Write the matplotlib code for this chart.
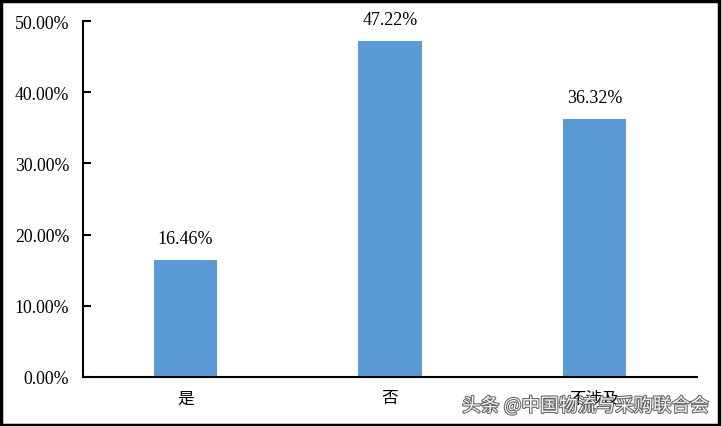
import matplotlib
matplotlib.use("Agg")
import matplotlib.pyplot as plt
import matplotlib.patheffects as pe
from matplotlib.patches import Rectangle
from matplotlib.ticker import FuncFormatter

categories = ["是", "否", "不涉及"]
values = [16.46, 47.22, 36.32]
labels = ["16.46%", "47.22%", "36.32%"]

fig = plt.figure(figsize=(7.22, 4.27), dpi=100)
ax = fig.add_axes([0.115, 0.115, 0.85, 0.833])
x = list(range(len(categories)))
ax.bar(x, values, width=0.31, color="#5B9BD5")
ax.set_xlim(-0.5, 2.5)
ax.set_ylim(0, 50)
ax.set_yticks([0, 10, 20, 30, 40, 50])
ax.yaxis.set_major_formatter(FuncFormatter(lambda v, p: f"{v:.2f}%"))
ax.set_xticks(x)
ax.set_xticklabels(categories, family=["Noto Sans CJK SC", "DejaVu Sans"], fontsize=12)
for lab in ax.get_yticklabels():
    lab.set_family("Liberation Serif")
    lab.set_fontsize(12.8)
ax.tick_params(axis="y", direction="in", length=6, width=1.5, pad=10)
ax.tick_params(axis="x", length=0, pad=9)
for s in ["top", "right"]:
    ax.spines[s].set_visible(False)
ax.spines["left"].set_linewidth(1.5)
ax.spines["bottom"].set_linewidth(1.5)
for xi, v, t in zip(x, values, labels):
    ax.annotate(t, (xi, v), xytext=(0, 9), textcoords="offset points",
                ha="center", va="bottom", family="Liberation Serif", fontsize=13)

fig.patches.append(Rectangle((0.002, 0.003), 0.994, 0.993, transform=fig.transFigure,
                             fill=False, edgecolor="black", linewidth=2.5))
fig.text(0.982, 0.047, "头条 @中国物流与采购联合会", ha="right", va="center",
         family=["Noto Sans CJK SC", "DejaVu Sans"], fontsize=13.5, color="#f4f4f4",
         path_effects=[pe.withStroke(linewidth=1.5, foreground="#666666")])
fig.savefig("out.png", dpi=100)
